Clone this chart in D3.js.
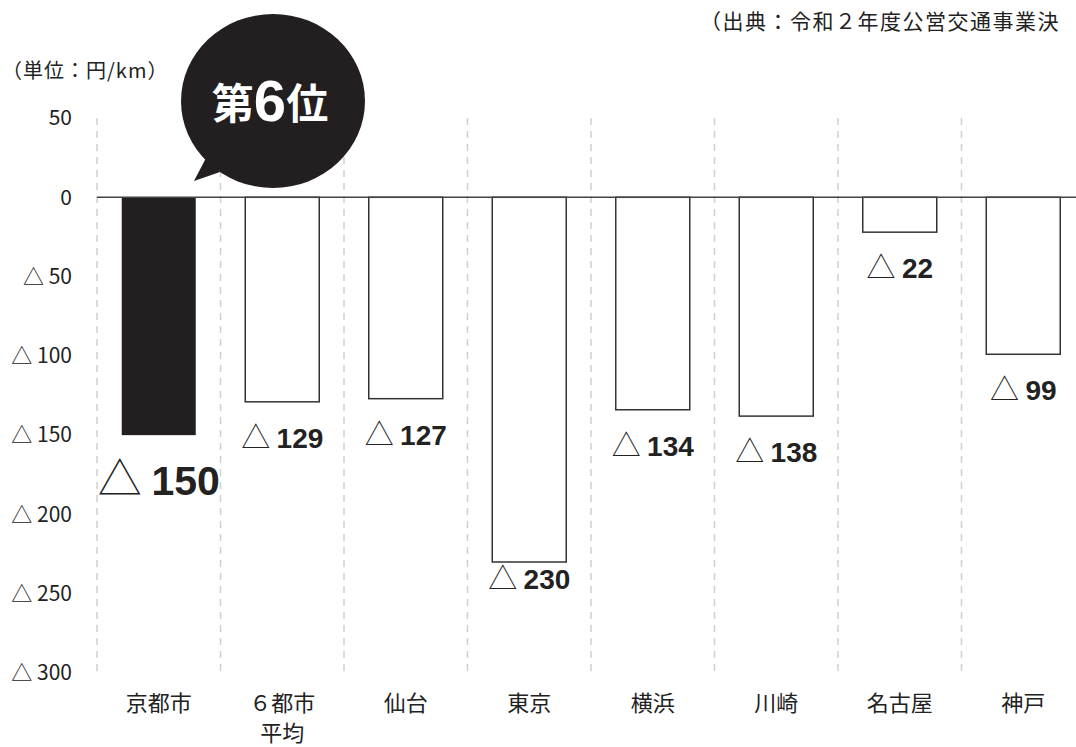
<!DOCTYPE html>
<html><head><meta charset="utf-8">
<script src="https://cdn.jsdelivr.net/npm/d3@7"></script>
<style>
body{margin:0;background:#fff;}
svg{display:block;}
</style></head><body>
<svg id="c" width="1076" height="747"></svg>
<script>
const categories = ["京都市", "６都市\n平均", "仙台", "東京", "横浜", "川崎", "名古屋", "神戸"];
const values = [-150, -129, -127, -230, -134, -138, -22, -99];
const tickValues = [50, 0, -50, -100, -150, -200, -250, -300];
const tickLabels = ["50", "0", "△ 50", "△ 100", "△ 150", "△ 200", "△ 250", "△ 300"];
const rankText = ["第", "6", "位"];
const unitText = "（単位：円/km）";
const sourceText = "（出典：令和２年度公営交通事業決";

const svg = d3.select("#c");
const jp = "'Noto Sans CJK JP','Noto Sans',sans-serif";
const num = "'Liberation Sans',Arial,sans-serif";

const x = d3.scaleBand().domain(categories.map((d,i)=>i)).range([97, 1085]).paddingInner(0).paddingOuter(0);
const y = d3.scaleLinear().domain([50, -300]).range([118, 673]);

// gridlines (dashed) at band boundaries
const bounds = categories.map((d,i)=>x(i));
svg.append("g").selectAll("line").data(bounds).join("line")
  .attr("x1", d=>d).attr("x2", d=>d)
  .attr("y1", y(50)).attr("y2", y(-300))
  .attr("stroke", "#d0d0d0").attr("stroke-width", 1.5).attr("stroke-dasharray", "7,6");

// bars
const bw = 74;
svg.append("g").selectAll("rect").data(values).join("rect")
  .attr("x", (d,i)=>x(i) + x.bandwidth()/2 - bw/2)
  .attr("y", y(0))
  .attr("width", bw)
  .attr("height", d=>y(d)-y(0))
  .attr("fill", (d,i)=> i===0 ? "#231f20" : "#fff")
  .attr("stroke", "#333").attr("stroke-width", (d,i)=> i===0 ? 0 : 1.5);

// zero line
svg.append("line").attr("x1", 97).attr("x2", 1076).attr("y1", y(0)).attr("y2", y(0))
  .attr("stroke", "#444").attr("stroke-width", 1.5);

// y axis labels
const yAxis = d3.axisLeft(y).tickValues(tickValues).tickSize(0).tickFormat((d,i)=>tickLabels[i]);
const ga = svg.append("g").attr("transform", "translate(75,0)").call(yAxis);
ga.select(".domain").remove();
ga.selectAll("text").attr("font-family", jp).attr("font-size", 21).attr("fill", "#222").attr("dx", 0);

// x labels
const gx = svg.append("g");
categories.forEach((c,i)=>{
  c.split("\n").forEach((l,j)=>{
    gx.append("text").attr("x", x(i)+x.bandwidth()/2).attr("y", 711 + j*30)
      .attr("text-anchor", "middle").attr("font-family", jp).attr("font-size", 22).attr("fill", "#222").text(l);
  });
});

// value labels
values.forEach((v,i)=>{
  const cx = x(i)+x.bandwidth()/2;
  const big = i===0;
  const off = big ? 60 : (v < -200 ? 27 : 46);
  const t = svg.append("text").attr("x", cx).attr("y", y(v)+off)
    .attr("text-anchor", "middle").attr("fill", "#222");
  t.append("tspan").attr("font-family", jp).attr("font-size", big?44:29).attr("font-weight", 300).text("△ ");
  t.append("tspan").attr("font-family", num).attr("font-weight", "bold").attr("font-size", big?41:28).text(String(-v));
});

// unit and source
svg.append("text").attr("x", 2).attr("y", 78).attr("font-family", jp).attr("font-size", 20).attr("letter-spacing", 1).attr("fill", "#222").text(unitText);
svg.append("text").attr("x", 700).attr("y", 29).attr("font-family", jp).attr("font-size", 21).attr("letter-spacing", 1.5).attr("fill", "#222").text(sourceText);

// bubble
const b = svg.append("g");
b.append("path").attr("d", "M 206 158 L 194 181 L 220 172 Z").attr("fill", "#231f20");
b.append("ellipse").attr("cx", 273).attr("cy", 101).attr("rx", 92).attr("ry", 87).attr("fill", "#231f20");
const rt = b.append("text").attr("x", 270).attr("y", 119).attr("text-anchor", "middle").attr("fill", "#fff");
rt.append("tspan").attr("font-family", jp).attr("font-weight", "bold").attr("font-size", 42).text(rankText[0]);
rt.append("tspan").attr("font-family", num).attr("font-weight", "bold").attr("font-size", 58).attr("dy", 2).text(rankText[1]);
rt.append("tspan").attr("font-family", jp).attr("font-weight", "bold").attr("font-size", 42).attr("dy", -2).text(rankText[2]);
</script>
</body></html>
